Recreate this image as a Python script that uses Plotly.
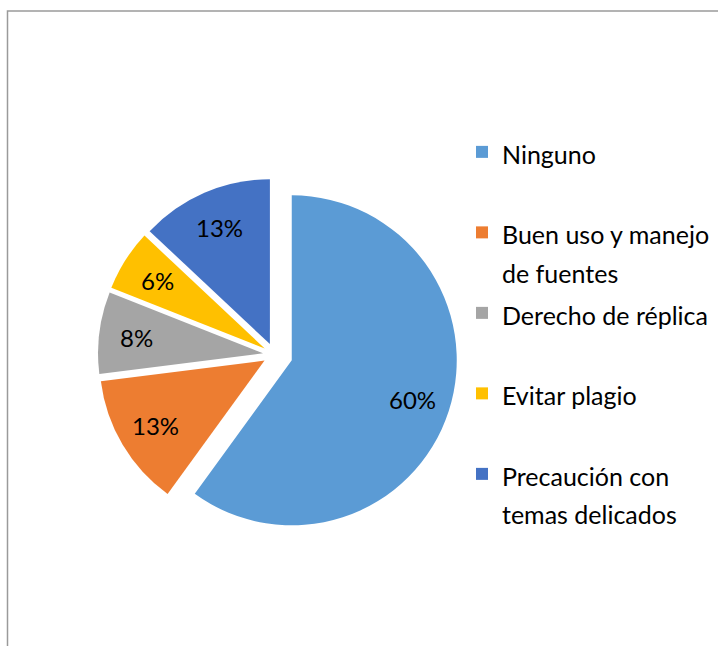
import math
import plotly.graph_objects as go

categories = ["Ninguno", "Buen uso y manejo de fuentes", "Derecho de réplica",
              "Evitar plagio", "Precaución con temas delicados"]
legend_lines = [["Ninguno"], ["Buen uso y manejo", "de fuentes"], ["Derecho de réplica"],
                ["Evitar plagio"], ["Precaución con", "temas delicados"]]
values = [60, 13, 8, 6, 13]
colors = ["#5B9BD5", "#ED7D31", "#A5A5A5", "#FFC000", "#4472C4"]
pulls = [0.11, 0.07, 0.07, 0.07, 0.07]

W, H = 718, 646
FONT = "Lato"
LBL = 24          # data label size
TXT = 25          # legend text size
ITEM_PITCH = 80.5 # vertical distance between legend entries (px)
LINE_H = (ITEM_PITCH - 3) / 2
LEG_FS = LINE_H / 1.3

DOM_X = [0.1272, 0.6374]
DOM_Y = [0.1674, 0.7344]


def legend_label(lines):
    body = "<br>".join(f"<span style='font-size:{TXT}px'>{t}</span>" for t in lines)
    return body + "<br>" if len(lines) == 1 else body


labels = [legend_label(l) for l in legend_lines]

fig = go.Figure(go.Pie(
    labels=labels,
    values=values,
    marker=dict(colors=colors, line=dict(width=0)),
    pull=pulls,
    sort=False,
    direction="clockwise",
    rotation=0,
    textinfo="none",
    hovertext=categories,
    hoverinfo="text+percent",
    domain=dict(x=DOM_X, y=DOM_Y),
))

# data labels placed from the slice geometry (same rules plotly uses for the pie)
box_w = W * (DOM_X[1] - DOM_X[0])
box_h = H * (DOM_Y[1] - DOM_Y[0])
r = min(box_w, box_h) / (2 + 2 * max(pulls))
cx = W * (DOM_X[0] + DOM_X[1]) / 2
cy = H * (1 - DOM_Y[0]) - box_h / 2
total = sum(values)
annotations = []
cum = 0
for v, p in zip(values, pulls):
    mid = (cum + v / 2) / total * 2 * math.pi
    cum += v
    d = (p + 0.77) * r
    px = cx + d * math.sin(mid)
    py = cy - d * math.cos(mid)
    annotations.append(dict(
        x=px / W, y=1 - py / H, xref="paper", yref="paper",
        text=f"{round(v / total * 100)}%", showarrow=False,
        font=dict(family=FONT, size=LBL, color="#000000"),
        xanchor="center", yanchor="middle",
    ))

fig.update_layout(
    width=W, height=H,
    margin=dict(l=0, r=0, t=0, b=0, pad=0),
    paper_bgcolor="white",
    plot_bgcolor="white",
    font=dict(family=FONT, color="#000000"),
    showlegend=True,
    legend=dict(
        x=462 / W, xanchor="left",
        y=(H - 126) / H, yanchor="top",
        valign="top",
        font=dict(family=FONT, size=LEG_FS, color="#000000"),
        bgcolor="rgba(0,0,0,0)",
        borderwidth=0,
        traceorder="normal",
    ),
    annotations=annotations,
    shapes=[dict(type="rect", xref="paper", yref="paper",
                 x0=7.5 / W, x1=1.05, y0=-0.05, y1=(H - 11) / H,
                 line=dict(color="#9a9a9a", width=1.5), layer="below")],
)

fig.write_html("out.html", config={"displayModeBar": False},
               post_script="document.body.style.margin='0';")
